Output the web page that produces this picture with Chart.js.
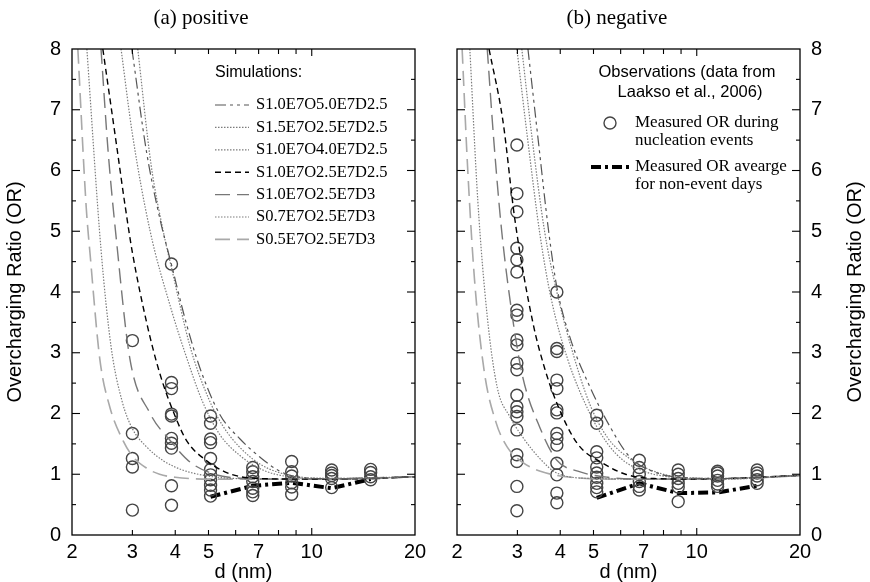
<!DOCTYPE html>
<html><head><meta charset="utf-8">
<script src="https://cdn.jsdelivr.net/npm/chart.js@4.4.0/dist/chart.umd.min.js"></script>
<style>
html,body{margin:0;padding:0;background:#fff;}
#wrap{position:relative;width:870px;height:582px;overflow:hidden;}
canvas{position:absolute;top:0;}
</style></head><body>
<div id="wrap">
<canvas id="cA" width="435" height="582" style="left:0"></canvas>
<canvas id="cB" width="435" height="582" style="left:435px"></canvas>
</div>
<script>
// ---------- axis ticks ----------
const dTicks = [2, 3, 4, 5, 7, 10, 20];
const dMinorTicks = [3, 4, 5, 6, 7, 8, 9, 10];
const orTicks = [0, 1, 2, 3, 4, 5, 6, 7, 8];

// ---------- simulation names ----------
const simNames = ['S1.0E7O5.0E7D2.5', 'S1.5E7O2.5E7D2.5', 'S1.0E7O4.0E7D2.5', 'S1.0E7O2.5E7D2.5', 'S1.0E7O2.5E7D3', 'S0.7E7O2.5E7D3', 'S0.5E7O2.5E7D3'];

// ---------- (a) positive : simulations ----------
const posA_d  = [2.99, 3.3, 3.61, 3.9, 4.3, 4.72, 5.4, 6.18, 7.07, 8.07, 9.24, 12, 16, 20];
const posA_or = [8, 6.3, 5.2, 4.45, 3.5, 2.75, 1.98, 1.58, 1.28, 1.05, 0.95, 0.92, 0.93, 0.96];
const posB_d  = [2.78, 3.0, 3.38, 3.9, 4.27, 4.8, 5.4, 6.2, 7.2, 8.5, 10, 14, 20];
const posB_or = [8, 6.6, 5.0, 3.7, 3.0, 2.2, 1.65, 1.3, 1.07, 0.96, 0.93, 0.93, 0.96];
const posC_d  = [3.11, 3.4, 3.69, 3.9, 4.42, 5.0, 5.5, 6.2, 7.2, 8.5, 10, 14, 20];
const posC_or = [8, 6.1, 5.0, 4.4, 3.1, 2.25, 1.8, 1.43, 1.14, 0.99, 0.94, 0.93, 0.96];
const posD_d  = [2.46, 2.7, 2.86, 3.0, 3.3, 3.61, 4.0, 4.32, 4.94, 5.58, 6.2, 7, 10, 15, 20];
const posD_or = [8, 6.4, 5.4, 4.65, 3.5, 2.65, 1.95, 1.55, 1.22, 1.04, 0.96, 0.93, 0.92, 0.93, 0.96];
const posE_d  = [2.43, 2.55, 2.69, 2.95, 3.38, 3.86, 4.42, 5.2, 6, 8, 12, 20];
const posE_or = [8, 6.3, 4.9, 2.9, 2.0, 1.56, 1.2, 1.0, 0.94, 0.92, 0.93, 0.96];
const posF_d  = [2.21, 2.43, 2.6, 2.8, 3.0, 3.3, 3.7, 4.2, 5, 6, 8, 12, 20];
const posF_or = [8, 4.7, 3.1, 2.2, 1.75, 1.45, 1.22, 1.07, 0.97, 0.93, 0.92, 0.93, 0.96];
const posG_d  = [2.08, 2.2, 2.26, 2.41, 2.58, 2.82, 3.0, 3.3, 3.6, 4.0, 5.0, 7, 10, 14, 20];
const posG_or = [8, 5.4, 4.6, 2.9, 2.1, 1.55, 1.3, 1.1, 1.0, 0.95, 0.92, 0.92, 0.92, 0.93, 0.96];

// ---------- (a) positive : observations ----------
const posObs_d  = [3.0, 3.0, 3.0, 3.0, 3.0,
                   3.9, 3.9, 3.9, 3.9, 3.9, 3.9, 3.9, 3.9, 3.9, 3.9,
                   5.07, 5.07, 5.07, 5.07, 5.07, 5.07, 5.07, 5.07, 5.07, 5.07, 5.07,
                   6.73, 6.73, 6.73, 6.73, 6.73, 6.73, 6.73,
                   8.74, 8.74, 8.74, 8.74, 8.74, 8.74,
                   11.43, 11.43, 11.43, 11.43, 11.43,
                   14.85, 14.85, 14.85, 14.85];
const posObs_or = [3.2, 1.67, 1.26, 1.12, 0.41,
                   4.46, 2.51, 2.41, 1.99, 1.96, 1.59, 1.51, 1.43, 0.81, 0.49,
                   1.96, 1.84, 1.58, 1.52, 1.26, 1.08, 0.99, 0.91, 0.82, 0.74, 0.64,
                   1.11, 1.04, 0.96, 0.88, 0.77, 0.71, 0.65,
                   1.21, 1.04, 0.97, 0.86, 0.79, 0.67,
                   1.07, 1.02, 0.98, 0.93, 0.78,
                   1.08, 1.03, 0.96, 0.91];
const posAvg_d  = [5.07, 6.73, 8.74, 11.43, 14.85];
const posAvg_or = [0.63, 0.81, 0.86, 0.77, 0.92];

// ---------- (b) negative : simulations ----------
const negA_d  = [3.22, 3.45, 3.7, 3.91, 4.3, 4.88, 5.59, 6.39, 7.66, 9, 12, 20];
const negA_or = [8, 6.5, 5.0, 4.08, 3.2, 2.44, 1.78, 1.28, 1.02, 0.95, 0.93, 0.98];
const negB_d  = [2.99, 3.2, 3.5, 3.76, 4.2, 4.88, 5.5, 6.1, 7, 8.5, 12, 20];
const negB_or = [8, 6.6, 4.9, 3.9, 2.9, 2.0, 1.5, 1.23, 1.05, 0.95, 0.92, 0.98];
const negC_d  = [3.09, 3.3, 3.6, 3.91, 4.3, 4.88, 5.5, 6.4, 7.5, 9, 12, 20];
const negC_or = [8, 6.6, 5.0, 4.0, 3.1, 2.15, 1.6, 1.25, 1.05, 0.95, 0.93, 0.98];
const negD_d  = [2.48, 2.72, 2.95, 3.33, 3.6, 3.91, 4.48, 5.33, 6.2, 7.5, 10, 20];
const negD_or = [8, 6.83, 5.19, 3.49, 2.75, 2.17, 1.51, 1.18, 1.0, 0.93, 0.92, 0.98];
const negE_d  = [2.45, 2.56, 2.7, 2.91, 3.11, 3.5, 3.91, 4.5, 5.5, 7, 10, 20];
const negE_or = [8, 6.5, 5.0, 3.54, 2.6, 1.75, 1.23, 1.05, 0.95, 0.92, 0.92, 0.98];
const negF_d  = [2.18, 2.3, 2.45, 2.62, 2.85, 3.11, 3.5, 3.91, 5, 8, 12, 20];
const negF_or = [8, 5.5, 3.6, 2.43, 1.95, 1.61, 1.25, 1.02, 0.93, 0.92, 0.93, 0.98];
const negG_d  = [2.07, 2.15, 2.25, 2.4, 2.6, 2.8, 3.1, 3.5, 4.3, 6, 10, 15, 20];
const negG_or = [8, 6, 4.2, 2.7, 1.85, 1.45, 1.2, 1.05, 0.95, 0.92, 0.92, 0.94, 0.98];

// ---------- (b) negative : observations ----------
const negObs_d  = [2.99, 2.99, 2.99, 2.99, 2.99, 2.99, 2.99, 2.99, 2.99, 2.99, 2.99, 2.99, 2.99, 2.99, 2.99, 2.99, 2.99, 2.99, 2.99, 2.99, 2.99,
                   3.91, 3.91, 3.91, 3.91, 3.91, 3.91, 3.91, 3.91, 3.91, 3.91, 3.91, 3.91, 3.91, 3.91,
                   5.11, 5.11, 5.11, 5.11, 5.11, 5.11, 5.11, 5.11, 5.11, 5.11,
                   6.8, 6.8, 6.8, 6.8, 6.8, 6.8,
                   8.83, 8.83, 8.83, 8.83, 8.83, 8.83,
                   11.5, 11.5, 11.5, 11.5, 11.5, 11.5,
                   15.0, 15.0, 15.0, 15.0, 15.0];
const negObs_or = [6.42, 5.62, 5.32, 4.72, 4.53, 4.33, 3.7, 3.62, 3.21, 3.13, 2.83, 2.72, 2.3, 2.11, 2.03, 1.95, 1.73, 1.32, 1.21, 0.8, 0.4,
                   4.0, 3.07, 3.02, 2.55, 2.41, 2.06, 2.01, 1.67, 1.59, 1.48, 1.18, 0.99, 0.69, 0.53,
                   1.97, 1.84, 1.37, 1.27, 1.12, 1.02, 0.95, 0.85, 0.78, 0.71,
                   1.23, 1.11, 1.0, 0.88, 0.8, 0.74,
                   1.07, 1.0, 0.93, 0.85, 0.79, 0.55,
                   1.05, 1.02, 0.97, 0.9, 0.84, 0.8,
                   1.07, 1.02, 0.97, 0.91, 0.85];
const negAvg_d  = [5.11, 6.8, 8.83, 11.5, 15.0];
const negAvg_or = [0.61, 0.85, 0.69, 0.70, 0.81];

// ---------- styles ----------
const simStyles = [
  {c: '#555555', w: 1.2, dash: [11, 4, 3, 4, 3, 4]},
  {c: '#7c7c7c', w: 1.2, dash: [1.5, 1.5]},
  {c: '#7c7c7c', w: 1.2, dash: [1.5, 1.5]},
  {c: '#000000', w: 1.4, dash: [6, 4]},
  {c: '#777777', w: 1.4, dash: [15, 7]},
  {c: '#7c7c7c', w: 1.2, dash: [1.5, 1.5]},
  {c: '#a9a9a9', w: 1.6, dash: [15, 7]}
];
const avgStyle = {c: '#000', w: 4, dash: [10, 4, 3, 4]};
const SANS = 'Liberation Sans, Arial, Helvetica, sans-serif';
const SERIF = 'Liberation Serif, Times New Roman, serif';

function pts(xs, ys) { return xs.map((x, i) => ({x: x, y: ys[i]})); }

function buildDatasets(sims, obsD, obsOr, avgD, avgOr) {
  const ds = sims.map((s, i) => ({
    label: simNames[i], data: pts(s[0], s[1]),
    borderColor: simStyles[i].c, borderWidth: simStyles[i].w, borderDash: simStyles[i].dash,
    pointRadius: 0, fill: false, cubicInterpolationMode: 'monotone'
  }));
  ds.push({label: 'obs', data: pts(obsD, obsOr), showLine: false, pointRadius: 6,
    pointBorderColor: '#444', pointBackgroundColor: 'rgba(0,0,0,0)', pointBorderWidth: 1.4});
  ds.push({label: 'avg', data: pts(avgD, avgOr), borderColor: avgStyle.c, borderWidth: avgStyle.w,
    borderDash: avgStyle.dash, pointRadius: 0, fill: false, tension: 0});
  return ds;
}

function line(ctx, x1, y1, x2, y2) { ctx.beginPath(); ctx.moveTo(x1, y1); ctx.lineTo(x2, y2); ctx.stroke(); }

function framePlugin(extra) {
  return {
    id: 'frame',
    afterDraw(chart) {
      const ctx = chart.ctx, a = chart.chartArea, x = chart.scales.x, y = chart.scales.y;
      ctx.save();
      ctx.strokeStyle = '#000'; ctx.lineWidth = 1.3; ctx.setLineDash([]);
      ctx.strokeRect(a.left, a.top, a.right - a.left, a.bottom - a.top);
      ctx.lineWidth = 1.1;
      dMinorTicks.forEach(v => {
        const px = x.getPixelForValue(v); const len = v === 10 ? 7 : 5;
        line(ctx, px, a.bottom, px, a.bottom - len); line(ctx, px, a.top, px, a.top + len);
      });
      for (let k = 1; k < 16; k++) {
        const v = k / 2; const py = y.getPixelForValue(v); const len = (k % 2 === 0) ? 8 : 4;
        line(ctx, a.left, py, a.left + len, py); line(ctx, a.right, py, a.right - len, py);
      }
      extra(chart, ctx, a);
      ctx.restore();
    }
  };
}

function legendSample(ctx, st, x1, x2, yy) {
  ctx.save(); ctx.strokeStyle = st.c; ctx.lineWidth = st.w; ctx.setLineDash(st.dash);
  line(ctx, x1, yy, x2, yy); ctx.restore();
}

function scalesFor(side, yWidth) {
  return {
    x: {type: 'logarithmic', min: 2, max: 20,
      afterBuildTicks(s) { s.ticks = dTicks.map(v => ({value: v})); },
      afterFit(s) { s.height = 47; },
      grid: {display: false, drawTicks: false}, border: {display: false},
      ticks: {font: {family: SANS, size: 20}, color: '#000', padding: 5, maxRotation: 0, autoSkip: false,
        callback: v => String(v)},
      title: {display: true, text: 'd (nm)', color: '#000', font: {family: SANS, size: 20, lineHeight: 1}, padding: 0}
    },
    y: {position: side, min: 0, max: 8,
      afterBuildTicks(s) { s.ticks = orTicks.map(v => ({value: v})); },
      afterFit(s) { s.width = yWidth; },
      grid: {display: false, drawTicks: false}, border: {display: false},
      ticks: {font: {family: SANS, size: 20}, color: '#000', padding: 11, autoSkip: false},
      title: {display: false}
    }
  };
}

// ---------- chart (a) ----------
new Chart(document.getElementById('cA'), {
  type: 'line',
  data: {datasets: buildDatasets([[posA_d, posA_or], [posB_d, posB_or], [posC_d, posC_or], [posD_d, posD_or], [posE_d, posE_or], [posF_d, posF_or], [posG_d, posG_or]],
    posObs_d, posObs_or, posAvg_d, posAvg_or)},
  options: {
    responsive: false, animation: false, events: [],
    layout: {padding: {left: 0, right: 20, top: 49, bottom: 0}},
    plugins: {legend: {display: false}, tooltip: {enabled: false}},
    scales: scalesFor('left', 72)
  },
  plugins: [framePlugin((chart, ctx, a) => {
    ctx.fillStyle = '#000'; ctx.textBaseline = 'middle';
    ctx.font = '21px ' + SERIF; ctx.textAlign = 'center';
    ctx.fillText('(a) positive', 201, 18);
    ctx.save(); ctx.translate(15, (a.top + a.bottom) / 2); ctx.rotate(-Math.PI / 2);
    ctx.font = '20px ' + SANS; ctx.fillText('Overcharging Ratio (OR)', 0, 0); ctx.restore();
    ctx.textAlign = 'left';
    ctx.font = '16px ' + SANS; ctx.fillText('Simulations:', 215, 73);
    ctx.font = '16.5px ' + SERIF;
    simNames.forEach((n, i) => {
      const yy = 105 + i * 22.4;
      legendSample(ctx, simStyles[i], 215, 249, yy);
      ctx.fillStyle = '#000'; ctx.fillText(n, 256, yy);
    });
  })]
});

// ---------- chart (b) ----------
new Chart(document.getElementById('cB'), {
  type: 'line',
  data: {datasets: buildDatasets([[negA_d, negA_or], [negB_d, negB_or], [negC_d, negC_or], [negD_d, negD_or], [negE_d, negE_or], [negF_d, negF_or], [negG_d, negG_or]],
    negObs_d, negObs_or, negAvg_d, negAvg_or)},
  options: {
    responsive: false, animation: false, events: [],
    layout: {padding: {left: 22, right: 0, top: 49, bottom: 0}},
    plugins: {legend: {display: false}, tooltip: {enabled: false}},
    scales: scalesFor('right', 70)
  },
  plugins: [framePlugin((chart, ctx, a) => {
    ctx.fillStyle = '#000'; ctx.textBaseline = 'middle';
    ctx.font = '21px ' + SERIF; ctx.textAlign = 'center';
    ctx.fillText('(b) negative', 182, 18);
    ctx.save(); ctx.translate(420, (a.top + a.bottom) / 2); ctx.rotate(-Math.PI / 2);
    ctx.font = '20px ' + SANS; ctx.fillText('Overcharging Ratio (OR)', 0, 0); ctx.restore();
    ctx.font = '16.5px ' + SANS; ctx.textAlign = 'center';
    ctx.fillText('Observations (data from', 252, 72);
    ctx.fillText('Laakso et al., 2006)', 255, 92);
    ctx.textAlign = 'left';
    ctx.save(); ctx.strokeStyle = '#444'; ctx.lineWidth = 1.4; ctx.setLineDash([]);
    ctx.beginPath(); ctx.arc(175, 123, 6, 0, Math.PI * 2); ctx.stroke(); ctx.restore();
    legendSample(ctx, avgStyle, 156, 196, 167);
    ctx.font = '17px ' + SERIF; ctx.fillStyle = '#000';
    ctx.fillText('Measured OR during', 200, 123);
    ctx.fillText('nucleation events', 200, 141);
    ctx.fillText('Measured OR avearge', 200, 167);
    ctx.fillText('for non-event days', 200, 185);
  })]
});
</script>
</body></html>
